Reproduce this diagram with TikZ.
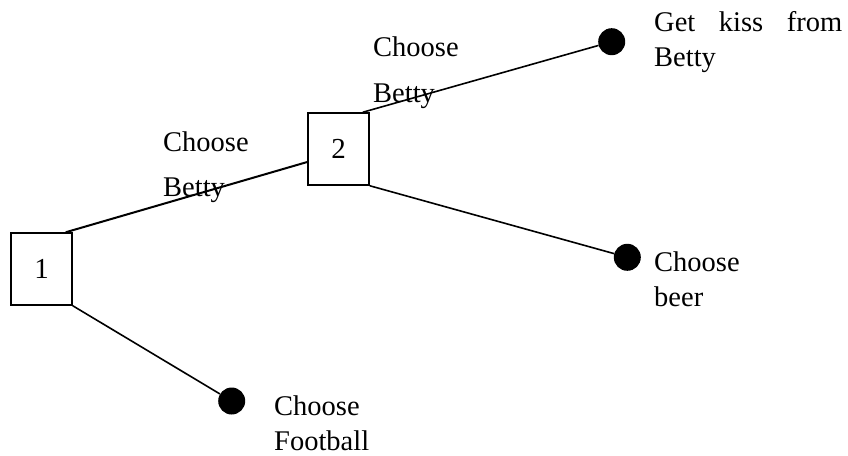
\documentclass[tikz,border=0pt]{standalone}
\usepackage{fontspec}
\setmainfont{Liberation Serif}
\begin{document}
\begin{tikzpicture}[x=1pt,y=-1pt,
  box/.style={draw,line width=1.5pt,minimum width=61pt,minimum height=72pt,inner sep=0pt,font=\fontsize{29}{29}\selectfont},
  leaf/.style={circle,fill=black,inner sep=0pt,minimum size=27pt},
  lbl/.style={anchor=base west,inner sep=0pt,font=\fontsize{28.5}{28.5}\selectfont},
  edge/.style={line width=1.6pt}]
\useasboundingbox (0,0) rectangle (848,455);
% decision nodes
\node[box] (b1) at (41.5,269) {1};
\node[box] (b2) at (338.5,149) {2};
% terminal dots
\node[leaf] (d1) at (231.7,401) {};
\node[leaf] (d2) at (627.3,257.3) {};
\node[leaf] (d3) at (611.7,41.7) {};
% connectors
\draw[edge,line width=2pt] ([xshift=-7pt]b1.north east) -- ([yshift=-13pt]b2.west);
\draw[edge] ([xshift=-7pt]b2.north east) -- (d3);
\draw[edge] (b2.south east) -- (d2);
\draw[edge] (b1.south east) -- (d1);
% labels
\node[lbl] (l1a) at (163,151) {Choose};
\node[lbl] (l1b) at (163,196) {Betty};
\node[lbl] (l2a) at (373,56) {Choose};
\node[lbl] (l2b) at (373,102) {Betty};
\node[lbl] (t3a) at (654,31.5) {\makebox[188pt][s]{Get kiss from}};
\node[lbl] (t3b) at (654,66.5) {Betty};
\node[lbl] (t2a) at (654,271.5) {Choose};
\node[lbl] (t2b) at (654,306) {beer};
\node[lbl] (t1a) at (274,415) {Choose};
\node[lbl] (t1b) at (274,450) {Football};
\end{tikzpicture}
\end{document}
